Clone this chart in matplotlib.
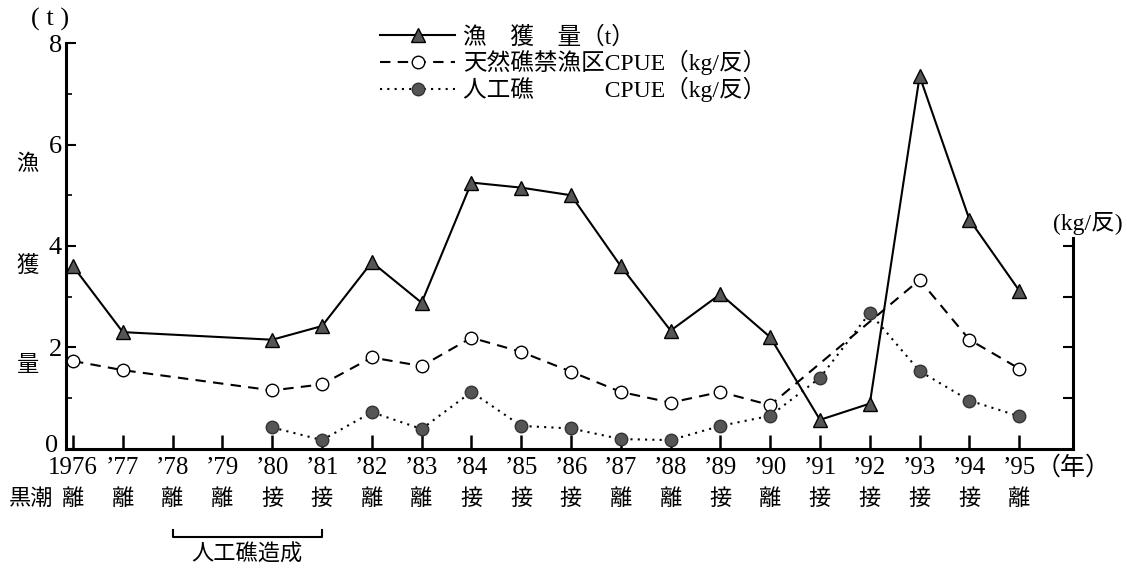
import numpy as np
import matplotlib
matplotlib.use("Agg")
import matplotlib.pyplot as plt
import matplotlib.transforms as transforms
from matplotlib.ticker import FixedLocator

plt.rcParams['font.family'] = ['Liberation Serif', 'Noto Sans CJK JP']

# data
years = np.arange(1976, 1996)
year_labels = ["1976"] + ["\u2019%02d" % (y % 100) for y in years[1:]]
kuroshio = ["離", "離", "離", "離", "接", "接", "離", "離", "接", "接",
            "接", "離", "離", "接", "離", "接", "接", "接", "接", "離"]

catch_years = [1976, 1977, 1980, 1981, 1982, 1983, 1984, 1985, 1986, 1987,
               1988, 1989, 1990, 1991, 1992, 1993, 1994, 1995]
catch_t = [3.6, 2.3, 2.15, 2.42, 3.68, 2.88, 5.25, 5.15, 5.0, 3.6,
           2.33, 3.05, 2.2, 0.57, 0.89, 7.35, 4.52, 3.12]

natural_years = [1976, 1977, 1980, 1981, 1982, 1983, 1984, 1985, 1986, 1987,
                 1988, 1989, 1990, 1993, 1994, 1995]
natural_cpue = [1.73, 1.55, 1.15, 1.27, 1.8, 1.63, 2.19, 1.91, 1.52, 1.12,
                0.91, 1.12, 0.86, 3.33, 2.15, 1.58]

artificial_years = [1980, 1981, 1982, 1983, 1984, 1985, 1986, 1987, 1988, 1989,
                    1990, 1991, 1992, 1993, 1994, 1995]
artificial_cpue = [0.42, 0.17, 0.72, 0.39, 1.12, 0.45, 0.4, 0.19, 0.17, 0.45,
                   0.65, 1.4, 2.68, 1.53, 0.95, 0.64]

fig = plt.figure(figsize=(11.27, 5.68), dpi=100)
ax = fig.add_axes([0.0586, 0.21, 0.8935, 0.714])
ax.set_xlim(1975.86, 1996.08)
ax.set_ylim(0, 8)

ax.plot(catch_years, catch_t, color="black", lw=1.5, marker="^", ms=10,
        mfc="#555555", mec="black", mew=1, label="漁　獲　量（t）", zorder=3)

# CPUE on the right-hand (kg/反) scale
ax2 = ax.twinx()
ax2.set_ylim(0, 8)
ax2.plot(natural_years, natural_cpue, color="black", lw=1.5, ls=(0, (5, 3.5)),
         marker="o", ms=9, mfc="white", mec="black", mew=1,
         label="天然礁禁漁区CPUE（kg/反）", zorder=3)
ax2.plot(artificial_years, artificial_cpue, color="black", lw=1.5, ls=(0, (1, 2.5)),
         marker="o", ms=9, mfc="#555555", mec="#333333", mew=1,
         label="人工礁　　　CPUE（kg/反）", zorder=3)

# spines
for a in (ax, ax2):
    a.spines["top"].set_visible(False)
    a.patch.set_visible(False)
ax.spines["right"].set_visible(False)
ax2.spines["left"].set_visible(False)
ax2.spines["bottom"].set_visible(False)
ax.spines["left"].set_linewidth(2.2)
ax.spines["bottom"].set_linewidth(2.2)
ax2.spines["right"].set_linewidth(2.2)
ax.spines["left"].set_bounds(0, 8)
ax2.spines["right"].set_bounds(0, 4.15)

# left axis ticks
ax.set_yticks([0, 2, 4, 6, 8])
ax.set_yticklabels(["0", "2", "4", "6", "8"], fontsize=19)
ax.yaxis.set_minor_locator(FixedLocator([1, 3, 5, 7]))
ax.tick_params(axis="y", which="major", direction="in", length=7, width=1.5, pad=3)
ax.tick_params(axis="y", which="minor", direction="in", length=4, width=1.2)
zero_label = ax.get_yticklabels()[0]
zero_label.set_transform(zero_label.get_transform() +
                         transforms.ScaledTranslation(-3 / 72, 4 / 72, fig.dpi_scale_trans))

# right axis ticks
ax2.set_yticks([1, 2, 3, 4])
ax2.set_yticklabels([])
ax2.tick_params(axis="y", direction="in", length=7, width=1.5)

# x axis
ax.set_xticks(years)
ax.set_xticklabels(year_labels, fontsize=18)
ax.tick_params(axis="x", direction="in", length=10, width=1.8, pad=6)

# axis captions
fig.text(0.0444, 0.966, "( t )", fontsize=19, ha="center", va="center")
for ch, yv in zip(["漁", "獲", "量"], [5.6, 3.6, 1.63]):
    ax.text(-0.038, yv, ch, transform=ax.get_yaxis_transform(), fontsize=16,
            ha="center", va="center")
fig.text(0.9654, 0.607, "(kg/反)", fontsize=17, ha="center", va="center")
fig.text(0.919, 0.176, "（年）", fontsize=18, ha="left", va="center")

# kuroshio row
trans = transforms.blended_transform_factory(ax.transData, fig.transFigure)
for yr, k in zip(years, kuroshio):
    ax.text(yr, 0.12, k, transform=trans, fontsize=16, ha="center", va="center")
ax.text(1975.6, 0.12, "黒潮", transform=trans, fontsize=16, ha="right", va="center")

# artificial reef construction bracket
by = 0.055
ax.plot([1978, 1978, 1981, 1981], [by + 0.012, by, by, by + 0.012], color="black",
        lw=1.5, transform=trans, clip_on=False)
ax.text(1979.5, 0.023, "人工礁造成", transform=trans, fontsize=16,
        ha="center", va="center")

# legend
h1, l1 = ax.get_legend_handles_labels()
h2, l2 = ax2.get_legend_handles_labels()
fig.legend(h1 + h2, l1 + l2, loc="upper left", bbox_to_anchor=(0.337, 0.954),
           frameon=False, fontsize=17, handlelength=3.2, handletextpad=0.34,
           labelspacing=0.07, borderpad=0, borderaxespad=0, numpoints=1)

fig.savefig("out.png", dpi=100)
